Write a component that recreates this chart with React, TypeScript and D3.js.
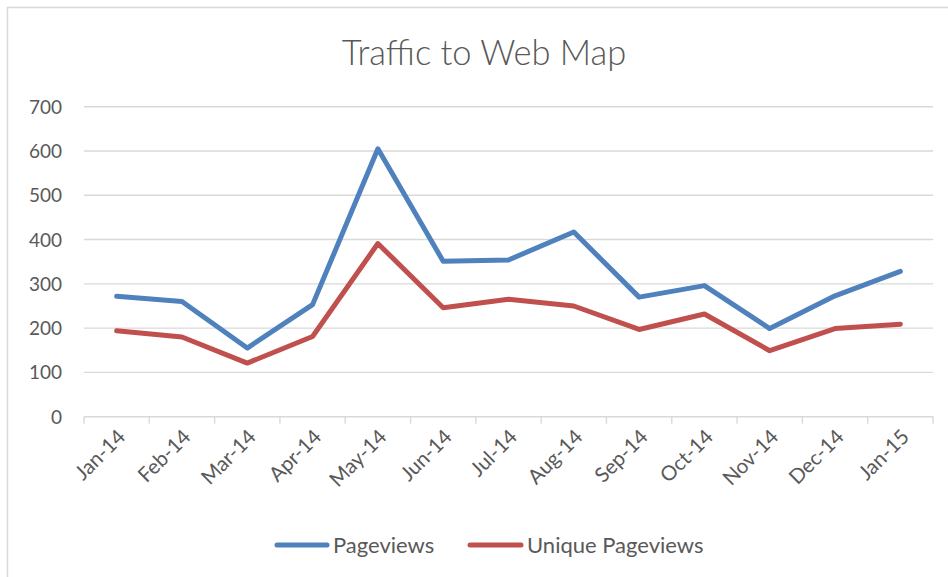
import React from "react";
import * as d3 from "d3";

const width = 948;
const height = 577;

const months = ["Jan-14", "Feb-14", "Mar-14", "Apr-14", "May-14", "Jun-14", "Jul-14", "Aug-14", "Sep-14", "Oct-14", "Nov-14", "Dec-14", "Jan-15"];
const pageviews = [272, 260, 155, 253, 605, 351, 354, 417, 270, 296, 199, 273, 328];
const uniquePageviews = [194, 180, 121, 181, 391, 246, 265, 250, 197, 232, 149, 199, 209];
const yTicks = [0, 100, 200, 300, 400, 500, 600, 700];

const seriesList = [
    { name: "Pageviews", values: pageviews, color: "#4F81BD" },
    { name: "Unique Pageviews", values: uniquePageviews, color: "#C0504D" },
];

const font = "Lato, 'Open Sans', sans-serif";
const textColor = "#595959";
const gridColor = "#D9D9D9";

const x = d3.scaleBand<string>().domain(months).range([84, 933]);
const y = d3.scaleLinear().domain([0, 700]).range([416.7, 106.7]);
const cx = (m: string) => (x(m) ?? 0) + x.bandwidth() / 2;

const line = d3.line<number>()
    .x((_, i) => cx(months[i]))
    .y(d => y(d));

export default function App() {
    const tickXs = months.map(m => x(m) ?? 0).concat([x.range()[1]]);
    return (
        <svg width={width} height={height} style={{ position: "absolute", left: 0, top: 0 }} fontFamily={font}>
            <rect x={0} y={0} width={width} height={height} fill="#fff" />
            <rect x={7.5} y={7.5} width={width + 20} height={height + 20} fill="none" stroke={gridColor} strokeWidth={1.5} />

            <text x={484} y={65} textAnchor="middle" fontSize={34.5} fontWeight={300} fill={textColor}>Traffic to Web Map</text>

            {/* gridlines + y labels */}
            {yTicks.map(t => (
                <g key={t}>
                    {t > 0 && <line x1={84} x2={933} y1={y(t)} y2={y(t)} stroke={gridColor} strokeWidth={1.4} />}
                    <text x={62} y={y(t) + 7} textAnchor="end" fontSize={19} fill={textColor}>{t}</text>
                </g>
            ))}

            {/* x axis */}
            <line x1={84} x2={933} y1={y(0)} y2={y(0)} stroke={gridColor} strokeWidth={1.4} />
            {tickXs.map((tx, i) => (
                <line key={i} x1={tx} x2={tx} y1={y(0)} y2={y(0) + 7} stroke={gridColor} strokeWidth={1.4} />
            ))}
            {months.map(m => (
                <text key={m} transform={`translate(${cx(m) + 10},${438}) rotate(-45)`} textAnchor="end" fontSize={20.5} fill={textColor}>{m}</text>
            ))}

            {/* series */}
            {seriesList.map(s => (
                <path key={s.name} d={line(s.values) ?? ""} fill="none" stroke={s.color} strokeWidth={5} strokeLinejoin="round" strokeLinecap="round" />
            ))}

            {/* legend */}
            <g>
                <line x1={277} x2={327} y1={545} y2={545} stroke={seriesList[0].color} strokeWidth={5} strokeLinecap="round" />
                <text x={333} y={553} fontSize={22} fill={textColor}>{seriesList[0].name}</text>
                <line x1={470} x2={521} y1={545} y2={545} stroke={seriesList[1].color} strokeWidth={5} strokeLinecap="round" />
                <text x={527} y={553} fontSize={22} fill={textColor}>{seriesList[1].name}</text>
            </g>
        </svg>
    );
}
